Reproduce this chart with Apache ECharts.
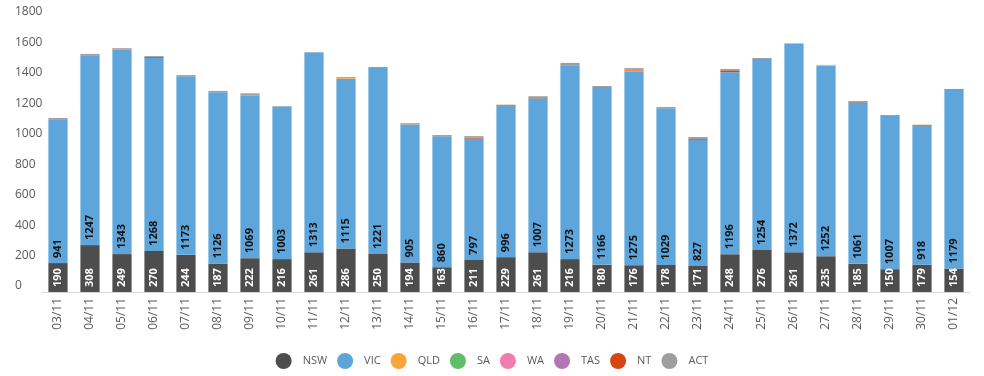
<!DOCTYPE html>
<html>
<head>
<meta charset="utf-8">
<script src="https://cdn.jsdelivr.net/npm/echarts@6/dist/echarts.min.js"></script>
<style>
  html, body { margin: 0; padding: 0; background: #fff; }
  #chart { width: 984px; height: 376px; }
</style>
</head>
<body>
<div id="chart"></div>
<script>
var dates = ["03/11", "04/11", "05/11", "06/11", "07/11", "08/11", "09/11", "10/11", "11/11", "12/11",
  "13/11", "14/11", "15/11", "16/11", "17/11", "18/11", "19/11", "20/11", "21/11", "22/11",
  "23/11", "24/11", "25/11", "26/11", "27/11", "28/11", "29/11", "30/11", "01/12"];

var nsw = [190, 308, 249, 270, 244, 187, 222, 216, 261, 286, 250, 194, 163, 211, 229, 261, 216, 180, 176, 178, 171, 248, 276, 261, 235, 185, 150, 179, 154];
var vic = [941, 1247, 1343, 1268, 1173, 1126, 1069, 1003, 1313, 1115, 1221, 905, 860, 797, 996, 1007, 1273, 1166, 1275, 1029, 827, 1196, 1254, 1372, 1252, 1061, 1007, 918, 1179];
var qld = [0, 0, 2, 0, 0, 0, 0, 0, 0, 5, 0, 0, 0, 0, 0, 0, 0, 0, 4, 0, 0, 0, 0, 0, 3, 0, 0, 3, 0];
var sa  = [0, 0, 0, 0, 0, 0, 0, 0, 0, 0, 0, 0, 0, 0, 0, 0, 0, 0, 0, 0, 0, 0, 0, 0, 0, 0, 0, 0, 0];
var wa  = [0, 0, 0, 0, 0, 0, 0, 0, 0, 0, 0, 0, 0, 0, 0, 0, 0, 0, 0, 0, 0, 0, 0, 0, 0, 0, 0, 0, 0];
var tas = [0, 0, 0, 0, 0, 0, 0, 0, 0, 0, 0, 0, 0, 0, 0, 0, 0, 0, 0, 0, 0, 0, 0, 0, 0, 0, 0, 0, 0];
var nt  = [0, 0, 5, 6, 0, 0, 0, 0, 0, 0, 0, 0, 0, 6, 5, 0, 0, 0, 6, 0, 6, 12, 0, 0, 0, 6, 4, 0, 0];
var act = [12, 9, 3, 6, 8, 8, 14, 3, 3, 6, 7, 10, 8, 10, 0, 18, 16, 7, 10, 8, 14, 9, 7, 1, 2, 3, 2, 0, 1];

var fontFamily = "'Open Sans', sans-serif";
var textColor = "#595959";

function makeSeries(name, data, color, label) {
  var s = {
    name: name,
    type: "bar",
    stack: "total",
    data: data,
    barWidth: "60%",
    itemStyle: { color: color },
    emphasis: { disabled: true }
  };
  if (label) {
    s.label = {
      show: true,
      rotate: 90,
      position: "insideBottom",
      align: "left",
      verticalAlign: "middle",
      distance: 5,
      color: label,
      fontFamily: fontFamily,
      fontSize: 11,
      fontWeight: "bold"
    };
  }
  return s;
}

var option = {
  animation: false,
  backgroundColor: "#ffffff",
  textStyle: { fontFamily: fontFamily },
  grid: { left: 42, right: 14, top: 18, bottom: 84 },
  legend: {
    top: 348,
    left: "center",
    icon: "circle",
    itemWidth: 16,
    itemHeight: 16,
    itemGap: 10,
    textStyle: { color: textColor, fontSize: 11, fontFamily: fontFamily, padding: [0, 0, 0, 6] },
    data: ["NSW", "VIC", "QLD", "SA", "WA", "TAS", "NT", "ACT"]
  },
  xAxis: {
    type: "category",
    data: dates,
    axisLine: { lineStyle: { color: "#d9d9d9" } },
    axisTick: { show: false },
    axisLabel: { rotate: 90, color: textColor, fontSize: 12, margin: 6, fontFamily: fontFamily }
  },
  yAxis: {
    type: "value",
    min: 0,
    max: 1800,
    interval: 200,
    splitLine: { show: false },
    axisLine: { show: false },
    axisTick: { show: false },
    axisLabel: {
      color: textColor,
      fontSize: 12,
      align: "left",
      verticalAlign: "bottom",
      lineHeight: 12,
      margin: 27,
      fontFamily: fontFamily,
      formatter: function (v) { return String(v); }
    }
  },
  series: [
    makeSeries("NSW", nsw, "#4d4d4d", "#ffffff"),
    makeSeries("VIC", vic, "#5da5da", "#141414"),
    makeSeries("QLD", qld, "#faa43a"),
    makeSeries("SA", sa, "#60bd68"),
    makeSeries("WA", wa, "#f17cb0"),
    makeSeries("TAS", tas, "#b276b2"),
    makeSeries("NT", nt, "#d64512"),
    makeSeries("ACT", act, "#9e9e9e")
  ]
};

var myChart = echarts.init(document.getElementById("chart"));
option && myChart.setOption(option);
</script>
</body>
</html>
